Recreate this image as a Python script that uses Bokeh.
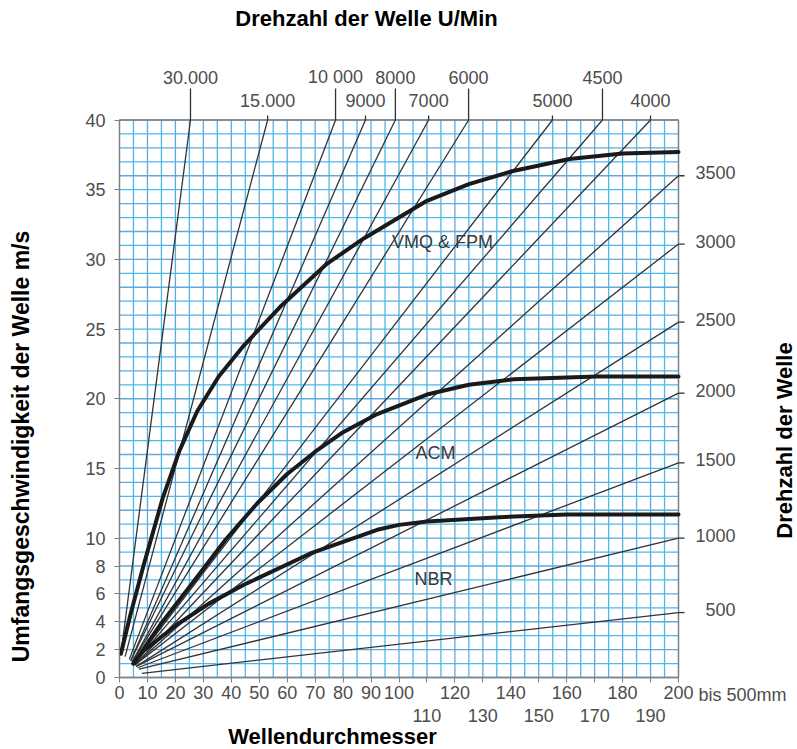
import math
from bokeh.plotting import figure
from bokeh.models import Range1d, FixedTicker, LinearAxis
from bokeh.core.properties import value
from bokeh.embed import file_html
from bokeh.resources import INLINE

# ---------------- data ----------------
# rpm lines ending on the top edge (v = 40 m/s)
top_rpm_labels = ["30.000", "15.000", "10 000", "9000", "8000", "7000", "6000", "5000", "4500", "4000"]
top_end_d = [25.4, 53.0, 77.3, 88.0, 98.7, 110.6, 124.9, 154.9, 172.8, 190.0]
top_start_d = [0.5, 2.0, 3.5, 4.0, 4.0, 4.5, 4.5, 5.0, 5.0, 5.5]
top_start_v = [1.7, 1.5, 1.3, 1.2, 1.2, 1.1, 1.1, 1.0, 1.0, 0.9]
top_row = [1, 2, 1, 2, 1, 2, 1, 2, 1, 2]

# rpm lines ending on the right edge (d = 200 mm)
right_rpm_labels = ["3500", "3000", "2500", "2000", "1500", "1000", "500"]
right_end_v = [36.0, 31.1, 25.5, 20.4, 15.4, 10.0, 4.66]
right_start_d = [5.5, 5.5, 6.0, 6.0, 6.5, 7.0, 8.0]
right_start_v = [0.9, 0.9, 0.8, 0.8, 0.7, 0.6, 0.3]

# material limit curves
vmq_d = [0.5, 3.9, 8.7, 15.5, 21.5, 27.8, 35.5, 44.4, 57.5, 74.3, 87.4, 110, 125, 140, 161, 180, 200]
vmq_v = [1.7, 4.5, 8.1, 12.9, 16.3, 19.1, 21.6, 23.8, 26.6, 29.7, 31.5, 34.2, 35.4, 36.3, 37.2, 37.6, 37.7]
acm_d = [5, 15, 26.6, 38, 49.3, 60, 70, 80, 92.2, 110, 125, 141, 171, 200]
acm_v = [1.0, 3.9, 6.9, 9.9, 12.5, 14.6, 16.2, 17.6, 18.9, 20.3, 21.0, 21.4, 21.6, 21.6]
nbr_d = [5, 8.6, 20.6, 32, 44.5, 68.3, 92.2, 100, 110, 136, 160, 200]
nbr_v = [1.0, 1.9, 3.8, 5.3, 6.65, 8.9, 10.6, 10.95, 11.2, 11.5, 11.7, 11.7]
curve_names = ["VMQ & FPM", "ACM", "NBR"]

# axis ticks
y_ticks = [0, 2, 4, 6, 8, 10, 15, 20, 25, 30, 35, 40]
x_ticks_row1 = [0, 10, 20, 30, 40, 50, 60, 70, 80, 90, 100, 120, 140, 160, 180, 200]
x_ticks_row2 = [110, 130, 150, 170, 190]
x_note = "bis 500mm"

# chart limits
D_MIN, D_MAX = 0, 200
V_MIN, V_MAX = 0, 40

# ---------------- layout (page pixels) ----------------
W, H = 797, 749
X0_PX, X1_PX = 119, 678      # d = 0 and d = 200
Y0_PX, Y1_PX = 677, 119.5    # v = 0 and v = 40
SX = (X1_PX - X0_PX) / (D_MAX - D_MIN)
SY = (Y0_PX - Y1_PX) / (V_MAX - V_MIN)


def dx(px):
    return D_MIN + (px - X0_PX) / SX


def dy(py):
    return V_MIN + (Y0_PX - py) / SY


FONT = "Liberation Sans"
TICK_COLOR = "#4d4d4d"
LINE_COLOR = "#333333"
FRAME_COLOR = "#808080"
FS = "18px"
TITLE_FS = "22px"

p = figure(width=W, height=H, x_range=Range1d(dx(0), dx(W)), y_range=Range1d(dy(H), dy(0)),
           output_backend="svg", toolbar_location=None, title=None,
           x_axis_location=None, y_axis_location=None, min_border=0)
p.grid.visible = False
p.outline_line_color = None
p.background_fill_color = "white"
p.border_fill_color = "white"

# ---------------- grid (cells of 5 mm x 1 m/s) ----------------
gx = list(range(D_MIN, D_MAX + 1, 5))
gy = list(range(V_MIN, V_MAX + 1, 1))
minor_x = [x for x in gx if x % 10]
major_x = [x for x in gx if not x % 10]
minor_y = [y for y in gy if y % 2]
major_y = [y for y in gy if not y % 2]
for xs, col in ((minor_x, "#4ab9ee"), (major_x, "#62a8da")):
    p.segment(x0=xs, y0=[V_MIN] * len(xs), x1=xs, y1=[V_MAX] * len(xs),
              line_color=col, line_width=1.3)
for ys, col in ((minor_y, "#4ab9ee"), (major_y, "#62a8da")):
    p.segment(x0=[D_MIN] * len(ys), y0=ys, x1=[D_MAX] * len(ys), y1=ys,
              line_color=col, line_width=1.3)
p.quad(left=[D_MIN], right=[D_MAX], bottom=[V_MIN], top=[V_MAX], fill_color=None,
       line_color=FRAME_COLOR, line_width=1.3)


def style(ax, standoff, tick_out=5, tick_color=FRAME_COLOR, line_color=FRAME_COLOR):
    ax.major_tick_out = tick_out
    ax.major_tick_in = 0
    ax.minor_tick_line_color = None
    ax.axis_line_color = line_color
    ax.major_tick_line_color = tick_color
    ax.major_label_text_font = FONT
    ax.major_label_text_font_size = FS
    ax.major_label_text_color = TICK_COLOR
    ax.major_label_standoff = standoff


# left axis
ay = LinearAxis(fixed_location=D_MIN, bounds=(V_MIN, V_MAX), ticker=FixedTicker(ticks=y_ticks))
style(ay, 9)
p.add_layout(ay, "left")

# bottom axis, row 1 with ticks every 10 mm
ax1 = LinearAxis(fixed_location=V_MIN, bounds=(D_MIN, D_MAX),
                 ticker=FixedTicker(ticks=sorted(x_ticks_row1 + x_ticks_row2)),
                 major_label_overrides={t: "" for t in x_ticks_row2})
style(ax1, 3)
p.add_layout(ax1, "below")

# "bis 500mm" continuing row 1 after the 200 label
note_x = dx(742)
ax_note = LinearAxis(fixed_location=V_MIN, ticker=FixedTicker(ticks=[note_x]),
                     major_label_overrides={note_x: x_note})
style(ax_note, 2, tick_color=None, line_color=None)
p.add_layout(ax_note, "below")

# bottom axis, row 2
ax2 = LinearAxis(fixed_location=V_MIN, ticker=FixedTicker(ticks=x_ticks_row2))
style(ax2, 31, tick_out=0, tick_color=None, line_color=None)
p.add_layout(ax2, "below")

# ---------------- rpm lines ----------------
p.segment(x0=top_start_d, y0=top_start_v, x1=top_end_d, y1=[V_MAX] * len(top_end_d),
          line_color=LINE_COLOR, line_width=1.3)
p.segment(x0=right_start_d, y0=right_start_v, x1=[D_MAX] * len(right_end_v), y1=right_end_v,
          line_color=LINE_COLOR, line_width=1.3)

# leaders and labels above the chart
lead_top = {1: dy(88), 2: dy(115)}
lab_top = {1: dy(76.5), 2: dy(99.5)}
p.segment(x0=top_end_d, y0=[V_MAX] * len(top_end_d), x1=top_end_d,
          y1=[lead_top[r] for r in top_row], line_color=LINE_COLOR, line_width=1.3)
p.text(x=top_end_d, y=[lab_top[r] for r in top_row], text=top_rpm_labels,
       text_align="center", text_baseline="middle", text_font=value(FONT),
       text_font_size=FS, text_color=TICK_COLOR)

# leaders and labels right of the chart
p.segment(x0=[D_MAX] * len(right_end_v), y0=right_end_v, x1=[dx(684)] * len(right_end_v),
          y1=right_end_v, line_color=LINE_COLOR, line_width=1.3)
p.text(x=[dx(735)] * len(right_end_v), y=[v + 3 / SY for v in right_end_v],
       text=right_rpm_labels, text_align="right", text_baseline="middle",
       text_font=value(FONT), text_font_size=FS, text_color=TICK_COLOR)

# ---------------- limit curves ----------------
for d, v in ((vmq_d, vmq_v), (acm_d, acm_v), (nbr_d, nbr_v)):
    p.line(d, v, line_color="#1a1a1a", line_width=4, line_cap="round", line_join="round")

p.text(x=[dx(442), dx(435), dx(433)], y=[dy(241), dy(452), dy(578)], text=curve_names,
       text_align="center", text_baseline="middle", text_font=value(FONT),
       text_font_size=FS, text_color="#3a3a3a")

# ---------------- titles ----------------
title_style = dict(text_baseline="middle", text_font=value(FONT),
                   text_font_style="bold", text_color="black", text_align="center")
p.text(x=[dx(366)], y=[dy(18)], text=["Drehzahl der Welle U/Min"],
       text_font_size=TITLE_FS, **title_style)
p.text(x=[dx(332)], y=[dy(736)], text=["Wellendurchmesser"],
       text_font_size=TITLE_FS, **title_style)
p.text(x=[dx(20)], y=[dy(446)], text=["Umfangsgeschwindigkeit der Welle m/s"],
       angle=math.pi / 2, text_font_size="23px", **title_style)
p.text(x=[dx(784)], y=[dy(440)], text=["Drehzahl der Welle"], angle=math.pi / 2,
       text_font_size=TITLE_FS, **title_style)

open("out.html", "w").write(file_html(p, INLINE))
